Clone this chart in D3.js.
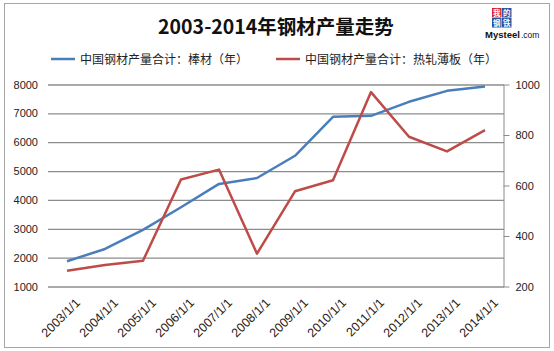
<!DOCTYPE html>
<html><head><meta charset="utf-8">
<script src="https://cdn.jsdelivr.net/npm/d3@7"></script>
<style>body{margin:0;background:#fff;} svg{display:block;}</style>
</head><body>
<svg id="c" width="554" height="351"></svg>
<script>
const categories = ["2003/1/1","2004/1/1","2005/1/1","2006/1/1","2007/1/1","2008/1/1","2009/1/1","2010/1/1","2011/1/1","2012/1/1","2013/1/1","2014/1/1"];
const barSteel = [1875,2300,2960,3745,4555,4760,5530,6880,6915,7400,7780,7930];
const hotRolledSheet = [262,285,302,624,663,330,577,621,970,793,735,819];
const leftTicks = [1000,2000,3000,4000,5000,6000,7000,8000];
const rightTicks = [200,400,600,800,1000];
const seriesNames = ["中国钢材产量合计：棒材（年）","中国钢材产量合计：热轧薄板（年）"];
const title = "2003-2014年钢材产量走势";

const svg = d3.select("#c");
const font = "'Liberation Sans', Arial, sans-serif";
const cjk = "'Noto Sans CJK SC', sans-serif";

svg.append("rect").attr("x",4.5).attr("y",3.5).attr("width",545).attr("height",344)
  .attr("fill","#fff").attr("stroke","#a6a6a6");

const x = d3.scaleBand().domain(categories).range([48,504]);
const yL = d3.scaleLinear().domain([1000,8000]).range([286.5,84.5]);
const yR = d3.scaleLinear().domain([200,1000]).range([286.5,84.5]);

// gridlines
const gl = svg.append("g").attr("transform","translate(504,0)")
  .call(d3.axisLeft(yL).tickValues(leftTicks).tickSize(456).tickFormat(""));
gl.select(".domain").remove();
gl.selectAll(".tick line").attr("stroke","#8c8c8c").attr("stroke-width",1.3);

// left labels
const ll = svg.append("g").attr("transform","translate(38,0)")
  .call(d3.axisLeft(yL).tickValues(leftTicks).tickSize(0).tickPadding(0).tickFormat(d3.format("d")));
ll.select(".domain").remove();
ll.selectAll("text").attr("font-family",font).attr("font-size",11).attr("fill","#222");

// right axis
const ra = svg.append("g").attr("transform","translate(503.5,0)")
  .call(d3.axisRight(yR).tickValues(rightTicks).tickSize(6).tickPadding(6).tickSizeOuter(0).tickFormat(d3.format("d")));
ra.select(".domain").attr("stroke","#8c8c8c");
ra.selectAll(".tick line").attr("stroke","#8c8c8c");
ra.selectAll("text").attr("font-family",font).attr("font-size",11).attr("fill","#222");

// x labels
const xa = svg.append("g").attr("transform","translate(0,286.5)")
  .call(d3.axisBottom(x).tickSize(0).tickPadding(0));
xa.select(".domain").remove();
xa.selectAll("text").attr("font-family",font).attr("font-size",12.5).attr("fill","#222")
  .attr("text-anchor","end").attr("dy",null).attr("y",0)
  .attr("transform","translate(14,17) rotate(-45)");

// lines
const lineL = d3.line().x((d,i)=>x(categories[i])+x.bandwidth()/2).y(d=>yL(d));
const lineR = d3.line().x((d,i)=>x(categories[i])+x.bandwidth()/2).y(d=>yR(d));
svg.append("path").datum(barSteel).attr("d",lineL).attr("fill","none")
  .attr("stroke","#4a7ebb").attr("stroke-width",2.5).attr("stroke-linejoin","round");
svg.append("path").datum(hotRolledSheet).attr("d",lineR).attr("fill","none")
  .attr("stroke","#be4b48").attr("stroke-width",2.5).attr("stroke-linejoin","round");

// title
svg.append("text").attr("x",276).attr("y",34).attr("text-anchor","middle")
  .attr("font-family",cjk).attr("font-size",19.5).attr("font-weight","bold").attr("fill","#111").text(title);

// legend
const lg = [[51,seriesNames[0],"#4a7ebb"],[276,seriesNames[1],"#be4b48"]];
lg.forEach(([lx,t,c])=>{
  svg.append("line").attr("x1",lx).attr("x2",lx+24).attr("y1",59).attr("y2",59)
    .attr("stroke",c).attr("stroke-width",2.5);
  svg.append("text").attr("x",lx+29).attr("y",63.5).attr("font-family",cjk).attr("font-size",12)
    .attr("fill","#222").text(t);
});

// logo
const logo = svg.append("g");
const cells = [[492,8,"我","#d9262c"],[502,8,"的","#2a55a5"],[492,18,"钢","#2a55a5"],[502,18,"铁","#2a55a5"]];
cells.forEach(([cx,cy,ch,col])=>{
  logo.append("rect").attr("x",cx).attr("y",cy).attr("width",9.5).attr("height",9.5).attr("fill",col);
  logo.append("text").attr("x",cx+4.75).attr("y",cy+7.8).attr("text-anchor","middle")
    .attr("font-family",cjk).attr("font-size",7.5).attr("font-weight","bold").attr("fill","#fff").text(ch);
});
logo.append("text").attr("x",485).attr("y",38).attr("font-family",font).attr("font-size",9.5)
  .attr("font-weight","bold").attr("fill","#111").text("Mysteel");
logo.append("text").attr("x",521).attr("y",38).attr("font-family",font).attr("font-size",8.5)
  .attr("fill","#111").text(".com");
</script>
</body></html>
